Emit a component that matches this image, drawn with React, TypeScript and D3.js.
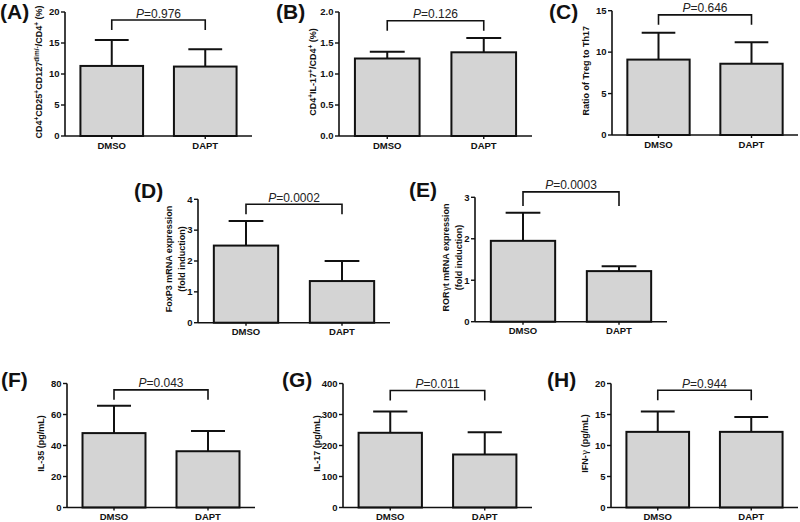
import React from "react";
import * as d3 from "d3";

const categories = ["DMSO", "DAPT"];
const panelLetters = ["(A)", "(B)", "(C)", "(D)", "(E)", "(F)", "(G)", "(H)"];
const meansA = [11.3, 11.2];
const sdA = [4.2, 2.8];
const meansB = [1.25, 1.35];
const sdB = [0.11, 0.23];
const meansC = [9.1, 8.6];
const sdC = [3.25, 2.6];
const meansD = [2.5, 1.35];
const sdD = [0.8, 0.65];
const meansE = [1.95, 1.22];
const sdE = [0.68, 0.12];
const meansF = [48, 36.3];
const sdF = [17.7, 13];
const meansG = [241, 171];
const sdG = [69, 72];
const meansH = [12.2, 12.2];
const sdH = [3.3, 2.4];
const yMax = [20, 2, 15, 4, 3, 80, 400, 20];
const yTicks = [
  [0, 5, 10, 15, 20],
  [0, 0.5, 1, 1.5, 2],
  [0, 5, 10, 15],
  [0, 1, 2, 3, 4],
  [0, 1, 2, 3],
  [0, 20, 40, 60, 80],
  [0, 100, 200, 300, 400],
  [0, 5, 10, 15, 20],
];
const tickFormats = ["d", ".1f", "d", "d", "d", "d", "d", "d"];
const pValues = ["0.976", "0.126", "0.646", "0.0002", "0.0003", "0.043", "0.011", "0.944"];
const bracketValues = [18.7, 1.86, 14.5, 3.84, 3.13, 75.9, 377.6, 18.9];

// y titles as segments: [text, style] where style: "n" normal, "s" superscript, "g" greek
const yTitles: [string, string][][][] = [
  [[["CD4", "n"], ["+", "s"], ["CD25", "n"], ["+", "s"], ["CD127", "n"], ["dim/-", "s"], ["/CD4", "n"], ["+", "s"], [" (%)", "n"]]],
  [[["CD4", "n"], ["+", "s"], ["IL-17", "n"], ["+", "s"], ["/CD4", "n"], ["+", "s"], [" (%)", "n"]]],
  [[["Ratio of Treg to Th17", "n"]]],
  [[["FoxP3 mRNA expression", "n"]], [["(fold induction)", "n"]]],
  [[["ROR", "n"], ["γ", "g"], ["t mRNA expression", "n"]], [["(fold induction)", "n"]]],
  [[["IL-35 (pg/mL)", "n"]]],
  [[["IL-17 (pg/mL)", "n"]]],
  [[["IFN-", "n"], ["γ", "g"], [" (pg/mL)", "n"]]],
];

const allMeans = [meansA, meansB, meansC, meansD, meansE, meansF, meansG, meansH];
const allSd = [sdA, sdB, sdC, sdD, sdE, sdF, sdG, sdH];

// layout (pixels)
const layout = [
  { x0: 65, x1: 252, yTop: 12, yBot: 136, lx: 0, ly: 19, drop: 10 },
  { x0: 339, x1: 532, yTop: 12, yBot: 136, lx: 276, ly: 19, drop: 10 },
  { x0: 612, x1: 798, yTop: 10.7, yBot: 135, lx: 549, ly: 19, drop: 10 },
  { x0: 198, x1: 390, yTop: 199.3, yBot: 322.7, lx: 134, ly: 198, drop: 10 },
  { x0: 475, x1: 667, yTop: 197.3, yBot: 321.7, lx: 409, ly: 197, drop: 14 },
  { x0: 67, x1: 255, yTop: 383.5, yBot: 507.5, lx: 1, ly: 387, drop: 10 },
  { x0: 343, x1: 532, yTop: 383.5, yBot: 507.5, lx: 282, ly: 387, drop: 10 },
  { x0: 611, x1: 798, yTop: 383.5, yBot: 507.5, lx: 547, ly: 387, drop: 10 },
];

const FONT = "Arial, 'Liberation Sans', Helvetica, sans-serif";
const INK = "#111";
const SUP = 3.5;

function TitleLine({ segs, x, cy }: { segs: [string, string][]; x: number; cy: number }) {
  let prev = 0;
  return (
    <text
      fontFamily={FONT}
      fontWeight={700}
      fontSize={9}
      fill={INK}
      textAnchor="middle"
      transform={`translate(${x},${cy}) rotate(-90)`}
      dy="0.35em"
    >
      {segs.map(([t, s], i) => {
        const off = s === "s" ? -SUP : 0;
        const dy = off - prev;
        prev = off;
        return (
          <tspan
            key={i}
            dy={dy}
            fontSize={s === "s" ? 6.5 : 9}
            fontFamily={s === "g" ? "'DejaVu Serif', serif" : FONT}
            fontWeight={s === "g" ? 400 : 700}
          >
            {t}
          </tspan>
        );
      })}
    </text>
  );
}

function Panel({ idx }: { idx: number }) {
  const L = layout[idx];
  const means = allMeans[idx];
  const sds = allSd[idx];
  const x = d3
    .scaleBand<string>()
    .domain(categories)
    .range([L.x0, L.x1])
    .paddingInner(0.33)
    .paddingOuter(0.165);
  const y = d3.scaleLinear().domain([0, yMax[idx]]).range([L.yBot, L.yTop]);
  const fmt = d3.format(tickFormats[idx]);
  const bw = x.bandwidth();
  const capHalf = bw * 0.27;
  const cx = (c: string) => (x(c) as number) + bw / 2;
  const by = y(bracketValues[idx]);
  const lines = yTitles[idx];
  const cy = (L.yTop + L.yBot) / 2 - 2;

  return (
    <g>
      <text x={L.lx} y={L.ly} fontFamily={FONT} fontWeight={700} fontSize={21} fill={INK}>
        {panelLetters[idx]}
      </text>
      {categories.map((c, i) => (
        <g key={c}>
          <line
            x1={cx(c)}
            x2={cx(c)}
            y1={y(means[i])}
            y2={y(means[i] + sds[i])}
            stroke={INK}
            strokeWidth={2}
          />
          <line
            x1={cx(c) - capHalf}
            x2={cx(c) + capHalf}
            y1={y(means[i] + sds[i])}
            y2={y(means[i] + sds[i])}
            stroke={INK}
            strokeWidth={2}
          />
          <rect
            x={x(c)}
            y={y(means[i])}
            width={bw}
            height={L.yBot - y(means[i])}
            fill="#d4d4d4"
            stroke={INK}
            strokeWidth={2}
          />
        </g>
      ))}
      <line x1={L.x0} x2={L.x0} y1={L.yTop} y2={L.yBot} stroke={INK} strokeWidth={1.6} />
      {yTicks[idx].map((t) => (
        <g key={t}>
          <line x1={L.x0 - 4} x2={L.x0} y1={y(t)} y2={y(t)} stroke={INK} strokeWidth={1.4} />
          <text
            x={L.x0 - 5.5}
            y={y(t)}
            dy="0.35em"
            textAnchor="end"
            fontFamily={FONT}
            fontWeight={700}
            fontSize={9.5}
            fill={INK}
          >
            {fmt(t)}
          </text>
        </g>
      ))}
      <line x1={L.x0} x2={L.x1} y1={L.yBot} y2={L.yBot} stroke={INK} strokeWidth={1.6} />
      {categories.map((c) => (
        <g key={c}>
          <line x1={cx(c)} x2={cx(c)} y1={L.yBot} y2={L.yBot + 3} stroke={INK} strokeWidth={1.4} />
          <text
            x={cx(c)}
            y={L.yBot + 12.5}
            textAnchor="middle"
            fontFamily={FONT}
            fontWeight={700}
            fontSize={9.5}
            fill={INK}
          >
            {c}
          </text>
        </g>
      ))}
      {lines.length === 1 ? (
        <TitleLine segs={lines[0]} x={L.x0 - 23} cy={cy} />
      ) : (
        <>
          <TitleLine segs={lines[0]} x={L.x0 - 26.5} cy={cy} />
          <TitleLine segs={lines[1]} x={L.x0 - 13.5} cy={cy} />
        </>
      )}
      <path
        d={`M${cx(categories[0])},${by + L.drop}V${by}H${cx(categories[1])}V${by + L.drop}`}
        fill="none"
        stroke={INK}
        strokeWidth={1.6}
      />
      <text
        x={(cx(categories[0]) + cx(categories[1])) / 2}
        y={by - 2.5}
        textAnchor="middle"
        fontFamily={FONT}
        fontSize={12}
        fill="#222"
      >
        <tspan fontStyle="italic">P</tspan>
        <tspan>={pValues[idx]}</tspan>
      </text>
    </g>
  );
}

export default function App() {
  return (
    <svg
      width={800}
      height={522}
      style={{ position: "absolute", left: 0, top: 0, background: "#fff" }}
    >
      <rect width={800} height={522} fill="#fff" />
      {panelLetters.map((_, i) => (
        <Panel key={i} idx={i} />
      ))}
    </svg>
  );
}
